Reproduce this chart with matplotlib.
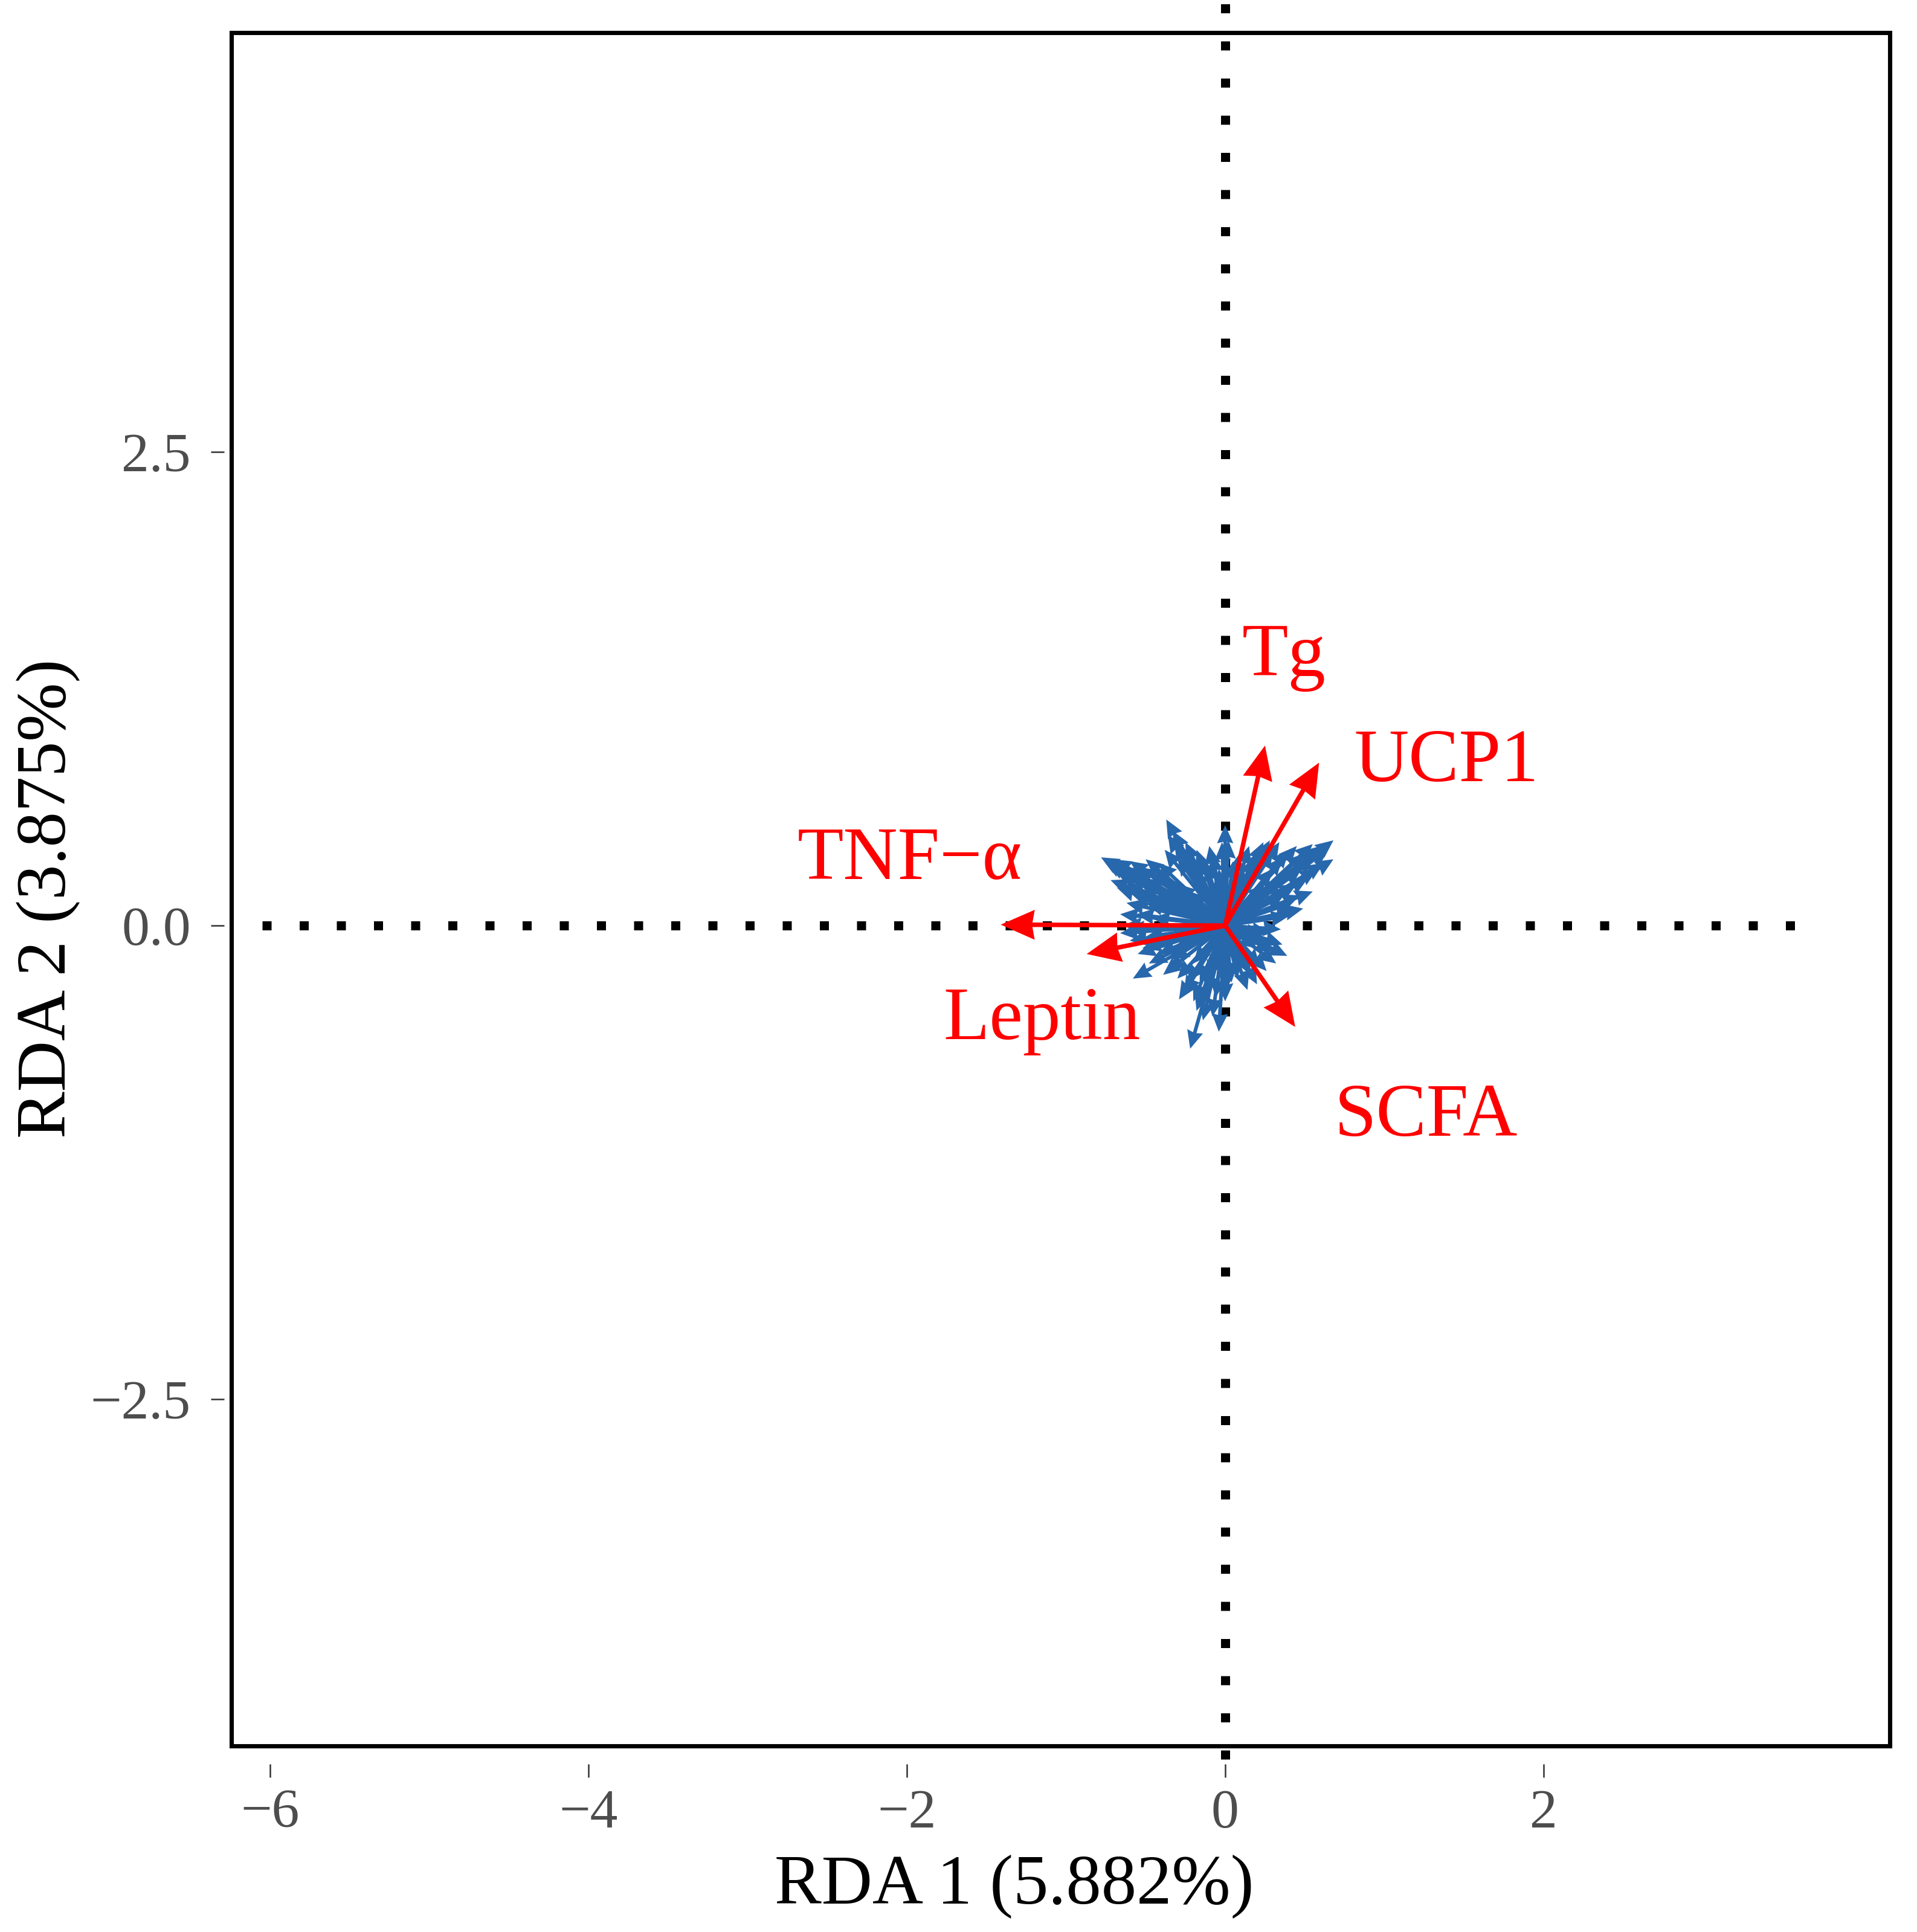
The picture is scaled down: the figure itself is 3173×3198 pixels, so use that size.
import numpy as np
import matplotlib
matplotlib.use("Agg")
import matplotlib.pyplot as plt
from matplotlib.patches import Rectangle

plt.rcParams['font.family'] = ['Liberation Serif', 'DejaVu Serif']

# environmental factors (red biplot arrows)
env_names = ['TNF\u2212\u03b1', 'Leptin', 'Tg', 'UCP1', 'SCFA']
env_x = [-1.41, -0.87, 0.25, 0.59, 0.44]
env_y = [0.005, -0.15, 0.95, 0.86, -0.535]
# label anchor (baseline, centred)
lab_x = [-1.98, -1.15, 0.37, 1.39, 1.26]
lab_y = [0.245, -0.60, 1.32, 0.762, -1.108]

# species scores (blue arrows)
sp_x = [-0.78, -0.74, -0.70, -0.66, -0.72, -0.68, -0.60, -0.55, -0.50, -0.45,
        -0.37, -0.36, -0.32, -0.28, -0.22, -0.18, -0.12, -0.08, -0.04, 0.00,
        0.02, -0.62, -0.66, -0.58, -0.52, -0.44, -0.40,
        -0.76, -0.70, -0.64, -0.58, -0.62, -0.56, -0.48, -0.42, -0.38, -0.33,
        -0.30, -0.25, -0.20, -0.15, -0.10, -0.06, -0.02, -0.50, -0.36, -0.30,
        -0.22, -0.56, -0.46, -0.64,
        -0.66, -0.60, -0.55, -0.58, -0.48, -0.39, -0.34, -0.29, -0.24,
        -0.22, -0.18, -0.12, -0.08, -0.04, 0.00, 0.01, -0.45,
        -0.62, -0.50, -0.52, -0.42, -0.36, -0.30, -0.26, -0.20, -0.16, -0.14,
        -0.10, -0.06, -0.02, -0.30, -0.20,
        0.08, 0.14, 0.20, 0.26, 0.32, 0.39, 0.28, 0.28, 0.20, 0.35,
        0.04, 0.10, 0.16, 0.22, 0.30, 0.24, 0.15, 0.36, 0.06,
        0.49, 0.42, 0.37, 0.45, 0.52, 0.58, 0.68, 0.64, 0.68, 0.60,
        0.50, 0.40, 0.34, 0.28, 0.22, 0.15, 0.09, 0.05, 0.30, 0.55,
        0.44, 0.40, 0.47, 0.40, 0.48, 0.56, 0.62, 0.66, 0.55, 0.45,
        0.36, 0.30, 0.24, 0.18, 0.12, 0.07, 0.25, 0.35, 0.20, 0.10]
sp_y = [0.36, 0.33, 0.30, 0.27, 0.24, 0.20, 0.34, 0.31, 0.35, 0.30,
        0.56, 0.48, 0.44, 0.40, 0.36, 0.40, 0.33, 0.38, 0.30, 0.53,
        0.45, 0.12, 0.06, 0.16, 0.22, 0.18, 0.25,
        0.34, 0.35, 0.31, 0.28, 0.22, 0.25, 0.28, 0.33, 0.40, 0.50,
        0.36, 0.44, 0.30, 0.36, 0.42, 0.25, 0.44, 0.12, 0.14, 0.22,
        0.18, 0.06, 0.04, 0.00,
        -0.04, -0.08, -0.15, -0.28, -0.20, -0.26, -0.18, -0.39, -0.30,
        -0.65, -0.45, -0.36, -0.48, -0.56, -0.40, -0.34, -0.10,
        -0.02, -0.06, -0.12, -0.15, -0.24, -0.28, -0.36, -0.40, -0.30, -0.50,
        -0.28, -0.38, -0.30, -0.10, -0.20,
        -0.28, -0.34, -0.31, -0.24, -0.20, -0.16, -0.10, -0.04, -0.12, -0.02,
        -0.30, -0.22, -0.26, -0.22, -0.14, -0.06, -0.08, -0.10, -0.15,
        0.09, 0.12, 0.16, 0.22, 0.25, 0.30, 0.35, 0.40, 0.45, 0.42,
        0.38, 0.40, 0.44, 0.45, 0.40, 0.42, 0.38, 0.34, 0.30, 0.18,
        0.08, 0.05, 0.16, 0.20, 0.30, 0.36, 0.33, 0.42, 0.43, 0.42,
        0.36, 0.40, 0.44, 0.36, 0.30, 0.26, 0.22, 0.25, 0.10, 0.15]

x_ticks = [-6, -4, -2, 0, 2]
y_ticks = [-2.5, 0.0, 2.5]
y_tick_labels = ['\u22122.5', '0.0', '2.5']

# reference lines through the origin
hline_x = [-6.05, 3.74]
vline_y = [-4.40, 4.90]

fig = plt.figure(figsize=(3173 / 300, 3198 / 300), dpi=300)
ax = fig.add_axes([0.1207, 0.0963, 0.8651, 0.8868])
ax.set_xlim(-6.243, 4.175)
ax.set_ylim(-4.330, 4.713)

# dotted zero lines
ax.plot(hline_x, [0, 0], color='black', lw=3.6, linestyle=(0, (1, 3.1)),
        dash_capstyle='butt', zorder=2, clip_on=False)
ax.plot([0, 0], vline_y, color='black', lw=3.6, linestyle=(0, (1, 3.1)),
        dash_capstyle='butt', zorder=2, clip_on=False)

sx = np.array(sp_x)
sy = np.array(sp_y)
ax.quiver(np.zeros_like(sx), np.zeros_like(sy), sx, sy, angles='xy',
          scale_units='xy', scale=1, units='dots', width=6, headwidth=4.5,
          headlength=5, headaxislength=4.6, color='#2767AC', zorder=3)

ex = np.array(env_x)
ey = np.array(env_y)
ax.quiver(np.zeros_like(ex), np.zeros_like(ey), ex, ey, angles='xy',
          scale_units='xy', scale=1, units='dots', width=7.5, headwidth=6.6,
          headlength=7.5, headaxislength=7, color='#FF0000', zorder=4)

for name, lx, ly in zip(env_names, lab_x, lab_y):
    ax.text(lx, ly, name, color='#FF0000', fontsize=30, ha='center',
            va='baseline', zorder=5)

# frame
for s in ax.spines.values():
    s.set_color('none')
ax.spines['bottom'].set_position(('outward', 7.2))
ax.spines['left'].set_position(('outward', 2.9))
ax.add_patch(Rectangle((0, 0), 1, 1, transform=ax.transAxes, fill=False,
                       lw=1.7, edgecolor='black', clip_on=False, zorder=6))

ax.set_xticks(x_ticks)
ax.set_yticks(y_ticks, labels=y_tick_labels)
ax.tick_params(axis='both', length=5.3, width=0.6, color='#333333',
               labelcolor='#4D4D4D', labelsize=22)
ax.tick_params(axis='x', pad=4.6)
ax.tick_params(axis='y', pad=7.9)

fig.text(0.529, 0.015, 'RDA 1 (5.882%)', fontsize=28, ha='center',
         va='baseline')
fig.text(0.0337, 0.535, 'RDA 2 (3.875%)', fontsize=28, ha='center',
         va='baseline', rotation=90, rotation_mode='anchor')

fig.savefig('out.png', dpi=300, facecolor='white')
